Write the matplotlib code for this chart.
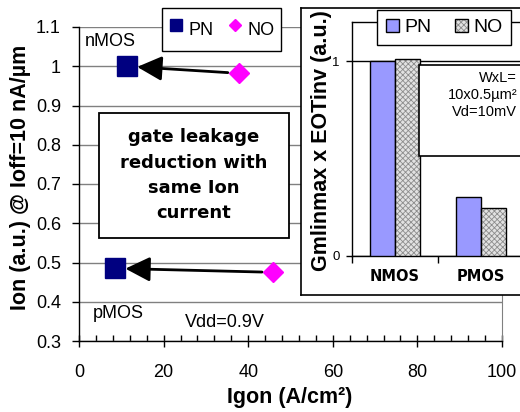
import matplotlib
matplotlib.use("Agg")
import matplotlib.pyplot as plt
from matplotlib.lines import Line2D
from matplotlib.patches import Patch, Rectangle
from matplotlib.legend_handler import HandlerTuple
from matplotlib.ticker import MultipleLocator, FixedLocator, FixedFormatter, FuncFormatter

plt.rcParams['font.family'] = ['Liberation Sans', 'DejaVu Sans']
plt.rcParams['hatch.linewidth'] = 0.6

# ---- main panel: Ion vs gate current ----
series = ['PN', 'NO']
igon_nmos = [11.3, 37.8]      # A/cm^2  (PN, NO)
ion_nmos = [1.0, 0.982]       # a.u.
igon_pmos = [8.5, 45.9]
ion_pmos = [0.485, 0.475]
x_ticks = [0, 20, 40, 60, 80, 100]
y_ticks = [0.3, 0.4, 0.5, 0.6, 0.7, 0.8, 0.9, 1.0, 1.1]

# ---- inset: normalized Gm,lin max x EOTinv ----
devices = ['NMOS', 'PMOS']
gm_pn = [1.0, 0.305]
gm_no = [1.01, 0.248]
inset_ticks = [0, 1]

PN_MARK = '#000080'
NO_MARK = '#FF00FF'
PN_BAR = '#9999FF'
NO_FILL = '#e2e2e2'
NO_HATCH = '#8c8c8c'

W, H = 520, 412
fig = plt.figure(figsize=(W / 100, H / 100), dpi=100)


def fx(px):
    return px / W


def fy(py):
    return 1 - py / H


# main axes
ax = fig.add_axes([fx(79), fy(341), fx(502) - fx(79), fy(27) - fy(341)])
ax.set_xlim(0, 100)
ax.set_ylim(0.3, 1.1)
ax.xaxis.set_major_locator(FixedLocator(x_ticks))
ax.xaxis.set_minor_locator(MultipleLocator(4))
ax.yaxis.set_major_locator(FixedLocator(y_ticks))
ax.yaxis.set_major_formatter(FuncFormatter(lambda v, p: f'{v:g}'))
ax.tick_params(axis='x', which='major', direction='inout', length=8, width=1,
               labelsize=13, pad=12.5)
ax.tick_params(axis='x', which='minor', direction='in', length=4, width=1)
ax.tick_params(axis='y', which='major', direction='out', length=5, width=1,
               labelsize=13, pad=8)
ax.yaxis.grid(True, color='#808080', lw=1)
ax.set_axisbelow(True)
ax.spines['top'].set_visible(False)
ax.spines['right'].set_color('#808080')
for s in ('left', 'bottom'):
    ax.spines[s].set_color('black')
    ax.spines[s].set_linewidth(1)

ax.set_xlabel('Igon (A/cm²)', fontsize=15.5, fontweight='bold')
ax.xaxis.set_label_coords(fx(290), fy(387), transform=fig.transFigure)
ax.set_ylabel('Ion (a.u.) @ Ioff=10 nA/µm', fontsize=15.5, fontweight='bold')
ax.yaxis.set_label_coords(fx(31), fy(177), transform=fig.transFigure)

# data points
ax.plot([igon_nmos[0], igon_pmos[0]], [ion_nmos[0], ion_pmos[0]], ls='none',
        marker='s', ms=14.5, color=PN_MARK, zorder=4)
ax.plot([igon_nmos[1], igon_pmos[1]], [ion_nmos[1], ion_pmos[1]], ls='none',
        marker='D', ms=10.3, color=NO_MARK, zorder=4)

# arrows from NO to PN
arrow_kw = dict(arrowstyle='-|>,head_length=1.5,head_width=0.75', lw=2,
                color='black', shrinkA=8, shrinkB=7.5, mutation_scale=10)
ax.annotate('', xy=(igon_nmos[0], ion_nmos[0]), xytext=(igon_nmos[1], ion_nmos[1]),
            arrowprops=arrow_kw, zorder=3)
ax.annotate('', xy=(igon_pmos[0], ion_pmos[0]), xytext=(igon_pmos[1], ion_pmos[1]),
            arrowprops=arrow_kw, zorder=3)

# labels inside the plot
ax.text(1.4, 1.064, 'nMOS', fontsize=13, ha='left', va='center')
ax.text(3.3, 0.371, 'pMOS', fontsize=13, ha='left', va='center')
ax.text(25, 0.348, 'Vdd=0.9V', fontsize=13, ha='left', va='center')

# message box
ax.add_patch(Rectangle((4.7, 0.562), 44.9, 0.319, facecolor='white',
                       edgecolor='black', lw=1.3, zorder=2))
ax.text(27.2, 0.722, 'gate leakage\nreduction with\nsame Ion\ncurrent',
        family='DejaVu Sans', fontsize=13, fontweight='bold', ha='center',
        va='center', linespacing=1.52, zorder=3)

# main legend
h_pn = Line2D([], [], ls='none', marker='s', ms=8.6, color=PN_MARK)
h_no = Line2D([], [], ls='none', marker='D', ms=6.6, color=NO_MARK)
leg = ax.legend([h_pn, h_no], series, ncol=2, loc='upper left',
                bbox_to_anchor=(fx(162), fy(8)), bbox_transform=fig.transFigure,
                frameon=True, fancybox=False, edgecolor='black', framealpha=1,
                fontsize=13, handlelength=0.8, handletextpad=0.3,
                columnspacing=0.8, borderpad=0.35, handleheight=2.25,
                borderaxespad=0)
leg.get_frame().set_linewidth(1.0)

# ---- inset ----
box_ax = fig.add_axes([fx(301), fy(295), 0.5, fy(8) - fy(295)])
box_ax.set_xticks([])
box_ax.set_yticks([])
box_ax.set_facecolor('white')
for s in box_ax.spines.values():
    s.set_color('black')
    s.set_linewidth(1.2)

bar_ax = fig.add_axes([fx(352), fy(256), 215 / W, fy(22) - fy(256)])
bar_ax.set_facecolor('none')
bar_ax.set_xlim(-0.5, 2.0)
bar_ax.set_ylim(0, 1.2)
xs = list(range(len(devices)))
bw = 0.29
bar_ax.bar([x - bw / 2 for x in xs], gm_pn, width=bw, color=PN_BAR,
           edgecolor='black', lw=1, zorder=3)
bar_ax.bar([x + bw / 2 for x in xs], gm_no, width=bw, color=NO_FILL,
           edgecolor=NO_HATCH, lw=0, hatch='xxxxxx', zorder=3)
bar_ax.bar([x + bw / 2 for x in xs], gm_no, width=bw, fill=False,
           edgecolor='black', lw=1, zorder=3)

bar_ax.yaxis.set_major_locator(FixedLocator(inset_ticks))
bar_ax.yaxis.set_major_formatter(FuncFormatter(lambda v, p: f'{v:g}'))
bar_ax.yaxis.grid(True, color='black', lw=1)
bar_ax.set_axisbelow(True)
bar_ax.tick_params(axis='y', direction='out', length=4, width=1, labelsize=9.5, pad=5)
bar_ax.xaxis.set_major_locator(FixedLocator([-0.5, 0.5, 1.5]))
bar_ax.xaxis.set_major_formatter(FixedFormatter(['', '', '']))
bar_ax.xaxis.set_minor_locator(FixedLocator(xs))
bar_ax.xaxis.set_minor_formatter(FixedFormatter(devices))
bar_ax.tick_params(axis='x', which='major', direction='out', length=5, width=1)
bar_ax.tick_params(axis='x', which='minor', length=0, pad=9.4)
for lab in bar_ax.xaxis.get_minorticklabels():
    lab.set_family('DejaVu Sans')
    lab.set_fontweight('bold')
    lab.set_fontsize(10.5)
for s in bar_ax.spines.values():
    s.set_color('black')
    s.set_linewidth(1)

bar_ax.set_ylabel('Gmlinmax x EOTinv (a.u.)', fontsize=15.5, fontweight='bold')
bar_ax.yaxis.set_label_coords(fx(332), fy(141), transform=fig.transFigure)

# measurement conditions box
bar_ax.add_patch(Rectangle((0.279, 0.515), 2.0, 0.464, facecolor='white',
                           edgecolor='black', lw=1.2, zorder=4, clip_on=False))
bar_ax.text(1.419, 0.825, 'WxL=\n10x0.5µm²\nVd=10mV', fontsize=10.5, ha='right',
            va='center', multialignment='right', linespacing=1.25, zorder=5)

# inset legend
p_pn = Patch(facecolor=PN_BAR, edgecolor='black', lw=1)
p_no_fill = Patch(facecolor=NO_FILL, edgecolor=NO_HATCH, lw=0, hatch='xxxxxx')
p_no_edge = Patch(fill=False, edgecolor='black', lw=1)
leg2 = bar_ax.legend([p_pn, (p_no_fill, p_no_edge)], series,
                     handler_map={tuple: HandlerTuple(ndivide=1)}, ncol=2,
                     loc='upper left', bbox_to_anchor=(fx(377), fy(10)),
                     bbox_transform=fig.transFigure, frameon=True, fancybox=False,
                     edgecolor='black', framealpha=1, fontsize=14,
                     handlelength=0.7, handleheight=0.7, handletextpad=0.25,
                     columnspacing=1.2, borderpad=0.45, borderaxespad=0)
leg2.get_frame().set_linewidth(1.0)
leg2.set_zorder(6)

fig.savefig('out.png', dpi=100)
